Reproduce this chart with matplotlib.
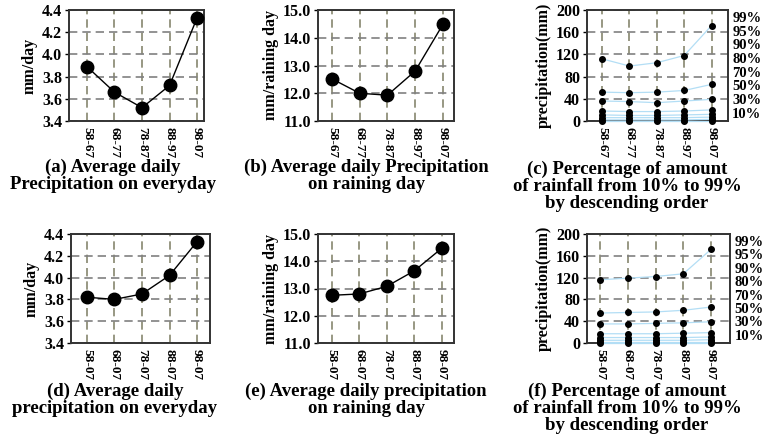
import matplotlib
matplotlib.use('Agg')
import matplotlib.pyplot as plt

# Periods used on the x axis
periods_top = ['58-67', '68-77', '78-87', '88-97', '98-07']
periods_bottom = ['58-07', '68-07', '78-07', '88-07', '98-07']

# (a) / (d) average daily precipitation on every day (mm/day)
daily_top = [3.89, 3.66, 3.52, 3.72, 4.33]
daily_bottom = [3.82, 3.80, 3.85, 4.02, 4.33]

# (b) / (e) average daily precipitation on raining day (mm/raining day)
rainday_top = [12.52, 12.00, 11.93, 12.80, 14.48]
rainday_bottom = [12.75, 12.80, 13.08, 13.65, 14.48]

# (c) / (f) precipitation thresholds (mm), one list per rank line
pct_top = [
    [112, 99, 105, 118, 172],
    [52, 51, 52, 55, 66],
    [36, 35, 33, 36, 39],
    [18, 17, 17, 18, 20],
    [11, 10, 10, 11, 12],
    [6, 6, 6, 6, 7],
    [2, 2, 2, 2, 3],
    [0.5, 0.5, 0.5, 0.5, 0.5],
]
pct_bottom = [
    [116, 119, 122, 127, 172],
    [55, 56, 57, 60, 66],
    [35, 35, 36, 37, 39],
    [17, 17, 17, 18, 19],
    [10, 10, 10, 10, 11],
    [5, 5, 5, 5, 6],
    [2, 2, 2, 2, 2],
    [0.5, 0.5, 0.5, 0.5, 0.5],
]
pct_labels = ['99%', '95%', '90%', '80%', '70%', '50%', '30%', '10%']

captions = {
    'a': '(a) Average daily\nPrecipitation on everyday',
    'b': '(b) Average daily Precipitation\non raining day',
    'c': '(c) Percentage of amount\nof rainfall from 10% to 99%\nby descending order',
    'd': '(d) Average daily\nprecipitation on everyday',
    'e': '(e) Average daily precipitation\non raining day',
    'f': '(f) Percentage of amount\nof rainfall from 10% to 99%\nby descending order',
}

plt.rcParams['font.family'] = ['Liberation Serif', 'DejaVu Serif']
plt.rcParams['font.weight'] = 'bold'

W, H = 765, 437
fig = plt.figure(figsize=(W / 100, H / 100), dpi=100)


def px_axes(left, top, right, bottom):
    return fig.add_axes([left / W, 1 - bottom / H, (right - left) / W, (bottom - top) / H])


def style_axes(ax, labels, xlim, ylim, yticks, yfmt, ylabel):
    ax.set_xlim(*xlim)
    ax.set_ylim(*ylim)
    ax.set_xticks(range(len(labels)))
    ax.set_xticklabels(labels, rotation=270, fontsize=9.5, fontweight='bold')
    ax.set_yticks(yticks)
    ax.set_yticklabels([yfmt.format(v) for v in yticks], fontsize=11.5, fontweight='bold')
    ax.tick_params(axis='x', length=0, pad=4)
    ax.tick_params(axis='y', direction='out', length=3, width=1, pad=2)
    ax.grid(True, axis='y', linestyle=(0, (5, 3)), color='#808080', linewidth=1.2)
    ax.grid(True, axis='x', linestyle=(0, (5, 3)), color='#86866e', linewidth=1.2)
    ax.set_axisbelow(True)
    for s in ax.spines.values():
        s.set_color('#333333')
        s.set_linewidth(1.4)
    ax.set_ylabel(ylabel, fontsize=11.5, fontweight='bold', labelpad=3)


def simple_panel(ax, labels, values, xlim, ylim, yticks, yfmt, ylabel):
    style_axes(ax, labels, xlim, ylim, yticks, yfmt, ylabel)
    ax.plot(range(len(values)), values, color='black', linewidth=1,
            marker='o', markersize=9, zorder=3)


def pct_panel(ax, labels, series, xlim, ylabel):
    style_axes(ax, labels, xlim, (0, 200), [0, 40, 80, 120, 160, 200], '{:d}', ylabel)
    for vals in series:
        ax.plot(range(len(vals)), vals, color='#b3def5', linewidth=0.9,
                marker='o', markersize=4, markerfacecolor='black',
                markeredgecolor='black', zorder=3, clip_on=False)
    n = len(pct_labels)
    for i, lab in enumerate(pct_labels):
        yf = 0.925 - i * (0.865 / (n - 1))
        ax.text(1.03, yf, lab, transform=ax.transAxes, fontsize=10.5,
                fontweight='bold', va='center', ha='left')


ax_a = px_axes(69, 10, 204, 121)
simple_panel(ax_a, periods_top, daily_top, (-0.65, 4.25), (3.4, 4.4),
             [3.4, 3.6, 3.8, 4.0, 4.2, 4.4], '{:.1f}', 'mm/day')

ax_b = px_axes(318, 10, 454, 121)
simple_panel(ax_b, periods_top, rainday_top, (-0.5, 4.4), (11.0, 15.0),
             [11.0, 12.0, 13.0, 14.0, 15.0], '{:.1f}', 'mm/raining day')

ax_c = px_axes(587, 10, 728, 121)
pct_panel(ax_c, periods_top, pct_top, (-0.55, 4.6), 'precipitation(mm)')

ax_d = px_axes(71, 234, 210, 343)
simple_panel(ax_d, periods_bottom, daily_bottom, (-0.58, 4.47), (3.4, 4.4),
             [3.4, 3.6, 3.8, 4.0, 4.2, 4.4], '{:.1f}', 'mm/day')

ax_e = px_axes(318, 234, 454, 343)
simple_panel(ax_e, periods_bottom, rainday_bottom, (-0.5, 4.44), (11.0, 15.0),
             [11.0, 12.0, 13.0, 14.0, 15.0], '{:.1f}', 'mm/raining day')

ax_f = px_axes(587, 234, 730, 343)
pct_panel(ax_f, periods_bottom, pct_bottom, (-0.47, 4.68), 'precipitation(mm)')

# Captions below each panel
cap_pos = {'a': (113, 159), 'b': (366, 159), 'c': (627, 161),
           'd': (115, 383), 'e': (366, 383), 'f': (627, 383)}
for key, (cx, cy) in cap_pos.items():
    fig.text(cx / W, 1 - cy / H, captions[key], ha='center', va='top',
             fontsize=13.5, fontweight='bold', linespacing=0.97)

fig.savefig('out.png', dpi=100)
